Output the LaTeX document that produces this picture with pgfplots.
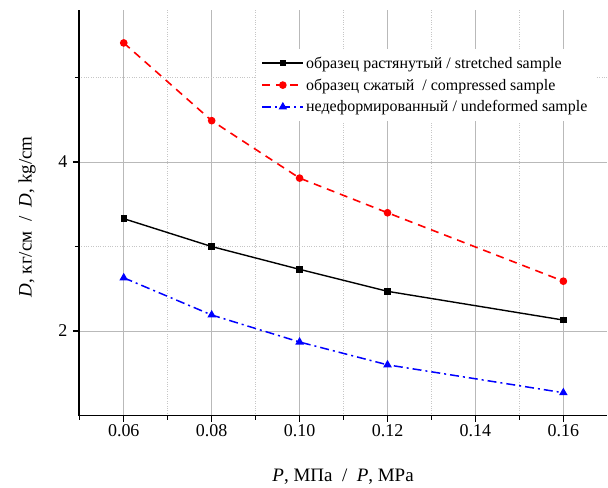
\documentclass[border=0pt]{standalone}
\usepackage{fontspec}
\setmainfont{Liberation Serif}
\usepackage{pgfplots}
\pgfplotsset{compat=1.18}
\begin{document}
\begin{tikzpicture}
\begin{axis}[
  scale only axis, width=529pt, height=406pt,
  xmin=0.0498, xmax=0.17, ymin=1, ymax=5.8,
  axis x line*=bottom, axis y line*=left,
  axis line style={-, line width=1.4pt},
  xtick={0.06,0.08,0.10,0.12,0.14,0.16},
  xticklabels={0.06,0.08,0.10,0.12,0.14,0.16},
  minor xtick={0.05,0.07,0.09,0.11,0.13,0.15},
  ytick={2,4}, minor ytick={3,5},
  grid=both,
  major grid style={gray!55, line width=0.9pt},
  minor grid style={gray!45, dotted, line width=0.8pt},
  tick align=outside, major tick length=6pt, minor tick length=4pt,
  tick style={black, line width=1.2pt},
  /pgf/number format/assume math mode=true,
  tick label style={font=\fontsize{18}{20}\selectfont},
  xticklabel style={yshift=1pt},
  yticklabel style={xshift=-2pt},
  xlabel={\textit{P}, МПа \ / \ \textit{P}, MPa},
  ylabel={\textit{D}, кг/см \ / \ \textit{D}, kg/cm},
  label style={font=\fontsize{19}{22}\selectfont},
  xlabel style={at={(rel axis cs:0.5,0)}, anchor=center, yshift=-61pt},
  ylabel style={at={(rel axis cs:0,0.49)}, anchor=center, yshift=52pt},
  legend cell align=left,
  legend style={at={(0.334,0.905)}, anchor=north west, draw=none, fill=white,
    font=\fontsize{16}{19}\selectfont, row sep=5pt, inner xsep=6pt, inner ysep=6pt},
  legend image code/.code={\draw[mark repeat=2,mark phase=2] plot coordinates {(0cm,0cm) (0.72cm,0cm) (1.44cm,0cm)};},
]
\addplot[black, line width=1.4pt, mark=square*, mark size=2.5pt, mark options={solid}]
  coordinates {(0.06,3.33) (0.08,3.00) (0.10,2.73) (0.12,2.47) (0.16,2.13)};
\addlegendentry{образец растянутый / stretched sample}
\addplot[red, line width=1.6pt, dash pattern=on 8pt off 6pt, mark=*, mark size=3pt, mark options={solid}]
  coordinates {(0.06,5.41) (0.08,4.49) (0.10,3.81) (0.12,3.40) (0.16,2.59)};
\addlegendentry{образец сжатый \ / compressed sample}
\addplot[blue, line width=1.5pt, dash pattern=on 9pt off 4pt on 2pt off 4pt, mark=triangle*, mark size=3.5pt, mark options={solid}]
  coordinates {(0.06,2.63) (0.08,2.19) (0.10,1.87) (0.12,1.60) (0.16,1.27)};
\addlegendentry{недеформированный / undeformed sample}
\end{axis}
\path[use as bounding box] (-79pt,-72pt) rectangle (529pt,416pt);
\end{tikzpicture}
\end{document}
